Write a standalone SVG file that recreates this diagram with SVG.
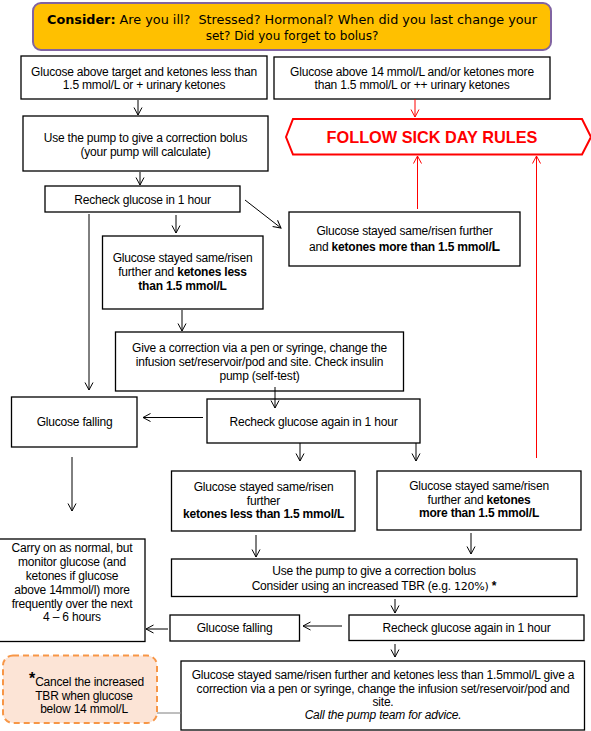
<svg xmlns="http://www.w3.org/2000/svg" width="591" height="731" viewBox="0 0 591 731">
<style>
.box{fill:#fff;stroke:#000;stroke-width:1.3}
.t{font-family:"Liberation Sans",Arial,sans-serif;font-size:12px;fill:#000;text-anchor:middle;letter-spacing:-0.2px}
.b{font-weight:bold}
.c{fill:none;stroke:#000;stroke-width:1}
.r{fill:none;stroke:#ff0000;stroke-width:1}
</style>
<defs>
<marker id="ah" markerWidth="10" markerHeight="10" refX="8" refY="4.5" orient="auto" markerUnits="userSpaceOnUse"><path d="M0.5,0.5 L8,4.5 L0.5,8.5" fill="none" stroke="#000" stroke-width="1"/></marker>
<marker id="ahr" markerWidth="10" markerHeight="10" refX="8" refY="4.5" orient="auto" markerUnits="userSpaceOnUse"><path d="M0.5,0.5 L8,4.5 L0.5,8.5" fill="none" stroke="#ff0000" stroke-width="1"/></marker>
</defs>
<rect width="591" height="731" fill="#fff"/>

<g id="consider">
<rect x="33" y="3" width="518" height="47" rx="8" fill="#ffc000" stroke="#8064a2" stroke-width="2"/>
<text x="292" y="24" style="font-family:'DejaVu Sans',Verdana,sans-serif;font-size:12px;text-anchor:middle" textLength="490" lengthAdjust="spacingAndGlyphs"><tspan font-weight="bold">Consider:</tspan> Are you ill?&#160; Stressed? Hormonal? When did you last change your</text>
<text x="292" y="40" style="font-family:'DejaVu Sans',Verdana,sans-serif;font-size:12px;text-anchor:middle">set? Did you forget to bolus?</text>
</g>

<g id="boxA">
<rect class="box" x="21" y="56" width="246" height="43"/>
<text class="t" x="144" y="76">Glucose above target and ketones less than</text>
<text class="t" x="144" y="89">1.5 mmol/L or + urinary ketones</text>
</g>

<g id="boxB">
<rect class="box" x="274" y="57" width="276" height="42"/>
<text class="t" x="412" y="76">Glucose above 14 mmol/L and/or ketones more</text>
<text class="t" x="412" y="89">than 1.5 mmol/L or ++ urinary ketones</text>
</g>

<g id="sickday">
<polygon points="286,137 293,119 582,119 591,137 582,154.5 293,154.5" fill="#fff" stroke="#ff0000" stroke-width="2"/>
<text x="432" y="143" style="font-family:'Liberation Sans',Arial,sans-serif;font-size:16.3px;font-weight:bold;fill:#ff0000;text-anchor:middle">FOLLOW SICK DAY RULES</text>
</g>

<g id="pump1">
<rect class="box" x="23" y="116" width="245" height="55"/>
<text class="t" x="145.5" y="142">Use the pump to give a correction bolus</text>
<text class="t" x="145.5" y="156">(your pump will calculate)</text>
</g>

<g id="recheck1">
<rect class="box" x="45" y="186" width="195" height="26"/>
<text class="t" x="142.5" y="204">Recheck glucose in 1 hour</text>
</g>

<g id="more1">
<rect class="box" x="289" y="212" width="231" height="54"/>
<text class="t" x="404.5" y="235">Glucose stayed same/risen further</text>
<text class="t" x="404.5" y="251">and <tspan class="b">ketones more than 1.5 mmol/</tspan><tspan class="b" font-size="14">L</tspan></text>
</g>

<g id="less1">
<rect class="box" x="102.5" y="236" width="160.5" height="73"/>
<text class="t" x="182.5" y="262">Glucose stayed same/risen</text>
<text class="t" x="182.5" y="276">further and <tspan class="b">ketones less</tspan></text>
<text class="t b" x="182.5" y="290">than 1.5 mmol/L</text>
</g>

<g id="give1">
<rect class="box" x="115.5" y="332" width="288" height="59"/>
<text class="t" x="259.5" y="352">Give a correction via a pen or syringe, change the</text>
<text class="t" x="259.5" y="366">infusion set/reservoir/pod and site. Check insulin</text>
<text class="t" x="259.5" y="380">pump (self-test)</text>
</g>

<g id="recheck2">
<rect class="box" x="207" y="399" width="213" height="44"/>
<text class="t" x="313.5" y="426">Recheck glucose again in 1 hour</text>
</g>

<g id="falling1">
<rect class="box" x="11.5" y="397" width="125.5" height="50"/>
<text class="t" x="74.5" y="426">Glucose falling</text>
</g>

<g id="less2">
<rect class="box" x="171.5" y="471" width="183.5" height="60"/>
<text class="t" x="263.5" y="491">Glucose stayed same/risen</text>
<text class="t" x="263.5" y="504.5">further</text>
<text class="t b" x="263.5" y="518">ketones less than 1.5 mmol/L</text>
</g>

<g id="more2">
<rect class="box" x="377" y="471" width="204" height="59"/>
<text class="t" x="479" y="490">Glucose stayed same/risen</text>
<text class="t" x="479" y="503.5">further and <tspan class="b">ketones</tspan></text>
<text class="t b" x="479" y="517">more than 1.5 mmol/L</text>
</g>

<g id="carry">
<rect class="box" x="-1" y="539" width="146" height="102.5"/>
<text class="t" x="72" y="552">Carry on as normal, but</text>
<text class="t" x="72" y="566">monitor glucose (and</text>
<text class="t" x="72" y="580">ketones if glucose</text>
<text class="t" x="72" y="594">above 14mmol/l) more</text>
<text class="t" x="72" y="608">frequently over the next</text>
<text class="t" x="72" y="621">4 – 6 hours</text>
</g>

<g id="pump2">
<rect class="box" x="171.5" y="559" width="405.5" height="37.5"/>
<text class="t" x="374" y="575">Use the pump to give a correction bolus</text>
<text class="t" x="374" y="590">Consider using an increased TBR (e.g. <tspan style="font-family:'DejaVu Sans',Verdana,sans-serif;font-size:11px">120%)</tspan> <tspan class="b">*</tspan></text>
</g>

<g id="falling2">
<rect class="box" x="170" y="615" width="129.5" height="26"/>
<text class="t" x="234.5" y="632">Glucose falling</text>
</g>

<g id="recheck3">
<rect class="box" x="349" y="615" width="235" height="25.5"/>
<text class="t" x="466.5" y="632">Recheck glucose again in 1 hour</text>
</g>

<g id="final">
<rect class="box" x="181" y="661" width="403.5" height="69"/>
<text class="t" x="383" y="679">Glucose stayed same/risen further and ketones less than 1.5mmol/L give a</text>
<text class="t" x="383" y="692.5">correction via a pen or syringe, change the infusion set/reservoir/pod and</text>
<text class="t" x="383" y="705.5">site.</text>
<text class="t" x="383" y="719" font-style="italic">Call the pump team for advice.</text>
</g>

<g id="note">
<rect x="3" y="655.5" width="154" height="67.5" rx="10" fill="#fce4d6" stroke="#f79646" stroke-width="2" stroke-dasharray="6,4"/>
<text class="t" x="86.5" y="686" font-size="12.5"><tspan class="b" font-size="16" dy="-2">*</tspan><tspan dy="2">Cancel the increased</tspan></text>
<text class="t" x="84" y="700" font-size="12.5">TBR when glucose</text>
<text class="t" x="84" y="713" font-size="12.5">below 14 mmol/L</text>
</g>

<g id="connectors">
<line class="c" x1="138" y1="100" x2="138" y2="115" marker-end="url(#ah)"/>
<line class="r" x1="415" y1="99" x2="415" y2="117" marker-end="url(#ahr)"/>
<line class="c" x1="140" y1="172" x2="140" y2="185" marker-end="url(#ah)"/>
<line class="c" x1="245" y1="200" x2="281" y2="228" marker-end="url(#ah)"/>
<line class="r" x1="417.5" y1="209" x2="417.5" y2="156" marker-end="url(#ahr)"/>
<line class="r" x1="536.5" y1="458" x2="536.5" y2="156" marker-end="url(#ahr)"/>
<line class="c" x1="176" y1="215" x2="176" y2="233" marker-end="url(#ah)"/>
<line class="c" x1="89" y1="214" x2="89" y2="390" marker-end="url(#ah)"/>
<line class="c" x1="182" y1="310" x2="182" y2="331" marker-end="url(#ah)"/>
<line class="c" x1="275" y1="387" x2="275" y2="408" marker-end="url(#ah)"/>
<line class="c" x1="203" y1="417.5" x2="143" y2="417.5" marker-end="url(#ah)"/>
<line class="c" x1="72" y1="457" x2="72" y2="511" marker-end="url(#ah)"/>
<line class="c" x1="300" y1="443" x2="300" y2="461" marker-end="url(#ah)"/>
<line class="c" x1="416" y1="443" x2="416" y2="461" marker-end="url(#ah)"/>
<line class="c" x1="256" y1="535" x2="256" y2="557" marker-end="url(#ah)"/>
<line class="c" x1="471" y1="533" x2="471" y2="554" marker-end="url(#ah)"/>
<line class="c" x1="395" y1="599" x2="395" y2="613" marker-end="url(#ah)"/>
<line class="c" x1="342" y1="626" x2="303" y2="626" marker-end="url(#ah)"/>
<line class="c" x1="168" y1="629" x2="146" y2="629" marker-end="url(#ah)"/>
<line class="c" x1="395" y1="644" x2="395" y2="657" marker-end="url(#ah)"/>
<line x1="157" y1="713" x2="181" y2="713" stroke="#7f7f7f" stroke-width="1"/>
</g>
</svg>
